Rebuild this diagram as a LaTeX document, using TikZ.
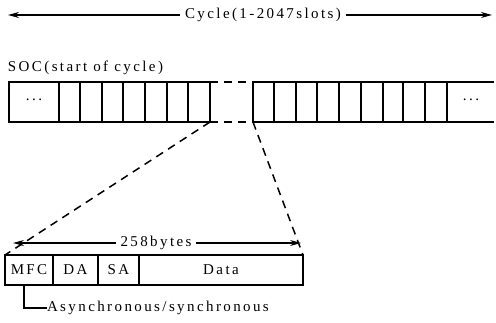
\documentclass[tikz,border=0pt]{standalone}
\usepackage{fontspec}
\setmainfont{Liberation Serif}[LetterSpace=16]
\usetikzlibrary{arrows.meta}
\begin{document}
\begin{tikzpicture}[x=1pt,y=-1pt,line width=1.2pt,
  lbl/.style={font=\fontsize{15}{17}\selectfont,inner sep=0pt,outer sep=0pt},
  arr/.style={-{Stealth[length=11pt,width=6pt]},line width=1.3pt},
  fld/.style={draw,line width=1.3pt,minimum height=30pt,inner sep=0pt,outer sep=0pt,
    anchor=north west,font=\fontsize{15}{17}\selectfont},
  gap/.style={dashed,dash pattern=on 8pt off 6pt,line width=1.5pt}]
\useasboundingbox (0,0) rectangle (496,323);
% cycle arrow
\node[lbl] (cyc) at (263,15) {Cycle(1-2047slots)};
\coordinate (cl) at (8,15);
\coordinate (cr) at (492,15);
\draw[arr] ([xshift=-5pt]cyc.west) -- (cl);
\draw[arr] ([xshift=5pt]cyc.east) -- (cr);
% SOC
\node[lbl,anchor=west] (soc) at (8,68) {SOC(start of cycle)};
% left slots
\draw[line width=1.3pt] (9,82) rectangle (210,122);
\foreach \x in {59,80,102,123,145,167,188} \draw[line width=1.3pt] (\x,82) -- (\x,122);
% right slots
\draw[line width=1.3pt] (494,82) -- (253,82) -- (253,122) -- (494,122);
\foreach \x in {274,296,317,339,361,383,403,425,447} \draw[line width=1.3pt] (\x,82) -- (\x,122);
\node[lbl] (dl) at (34,100) {...};
\node[lbl] (dr) at (471,100) {...};
% gap
\coordinate (g1t) at (210,82);
\coordinate (g1b) at (210,122);
\coordinate (g2t) at (253,82);
\coordinate (g2b) at (253,122);
\draw[gap] (g1t) -- (g2t);
\draw[gap] (g1b) -- (g2b);
% frame
\node[fld,minimum width=48pt] (mfc) at (5,255) {MFC};
\node[fld,minimum width=45pt] (da) at (53,255) {DA};
\node[fld,minimum width=41pt] (sa) at (98,255) {SA};
\node[fld,minimum width=164pt] (data) at (139,255) {Data};
% zoom dashed lines
\draw[gap] (g1b) -- (mfc.north west);
\draw[gap] (g2b) -- (data.north east);
% 258 bytes
\node[lbl] (b258) at (156,243) {258bytes};
\coordinate (bl) at (13,243);
\coordinate (br) at (301,243);
\draw[arr] ([xshift=-5pt]b258.west) -- (bl);
\draw[arr] ([xshift=5pt]b258.east) -- (br);
% async
\node[lbl,anchor=west] (async) at (47,308) {Asynchronous/synchronous};
\draw[line width=1.3pt] ([xshift=19pt]mfc.south west) |- (async.west);
\end{tikzpicture}
\end{document}
